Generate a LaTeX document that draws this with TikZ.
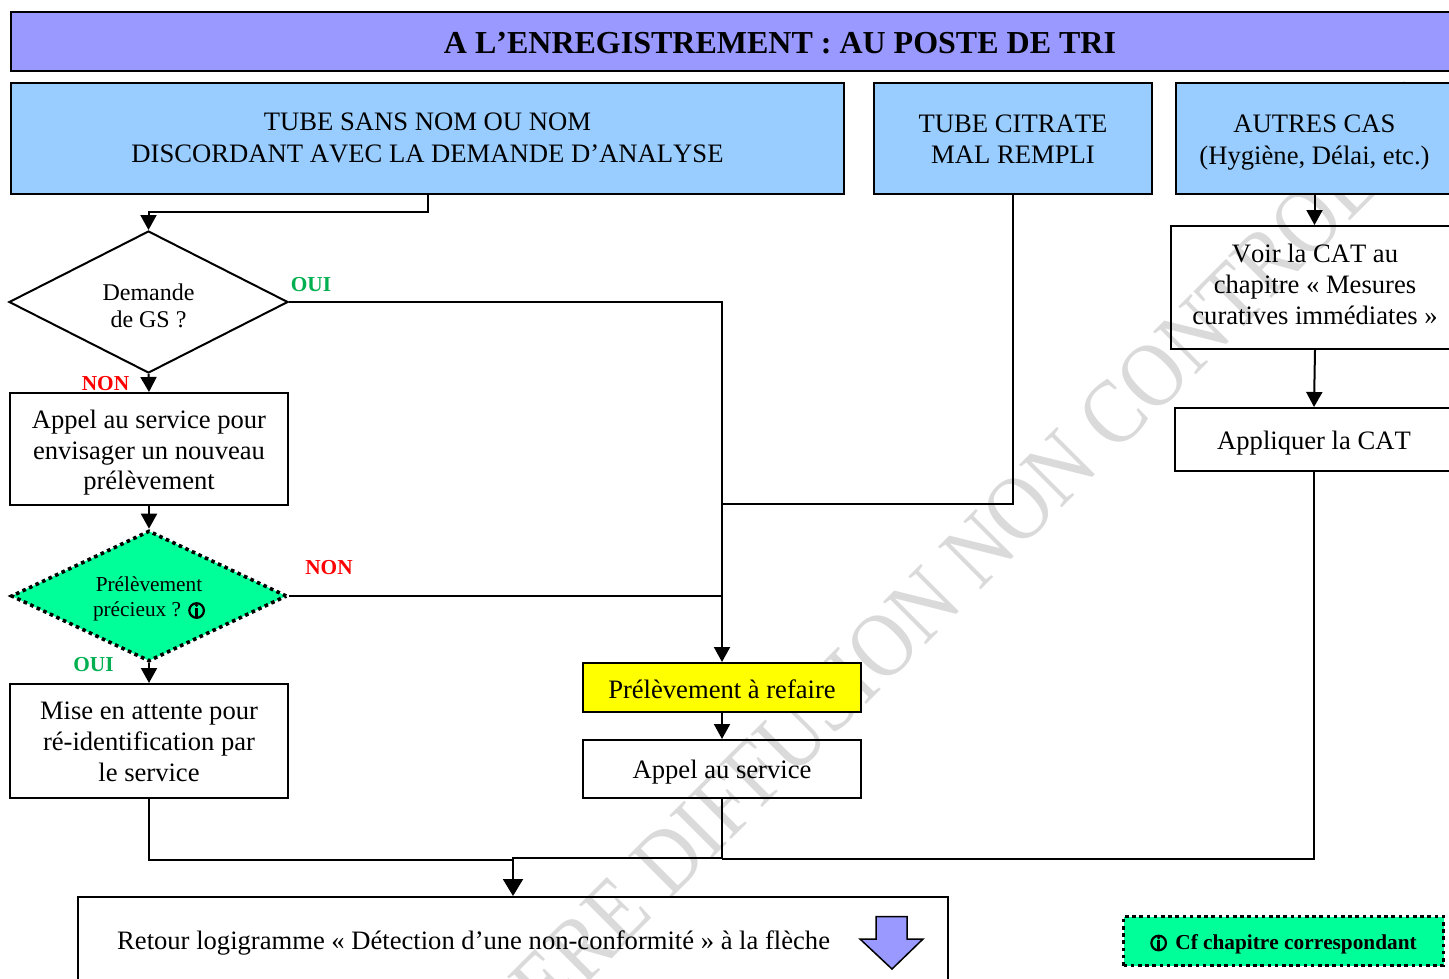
\documentclass[tikz,border=0pt]{standalone}
\usepackage{fontspec}
\setmainfont[Kerning=Off]{Liberation Serif}
\usetikzlibrary{arrows.meta,shapes.geometric}
\definecolor{titlec}{RGB}{153,153,255}
\definecolor{bluec}{RGB}{153,204,255}
\definecolor{greenc}{RGB}{0,255,153}
\definecolor{ouic}{RGB}{0,176,80}
\definecolor{redc}{RGB}{255,0,0}
\definecolor{yelc}{RGB}{255,255,0}
\definecolor{wmc}{RGB}{218,218,218}
\newcommand{\fsz}[2]{\fontsize{#1}{#2}\selectfont}
% text block moved by #1 (up is positive) without changing the node's size
\newcommand{\mv}[2]{\raisebox{#1}[\height][\depth]{\begin{tabular}{@{}c@{}}#2\end{tabular}}}
% circled i symbol (absent from the available fonts)
\newcommand{\infosym}{\smash{\tikz[baseline=0pt,x=1pt,y=1pt]{%
  \draw[line width=2.2pt] (0,6) circle[radius=7.3];
  \fill (-1.7,-1.2) rectangle (1.7,8.6);
  \fill (0,11.2) circle[radius=1.7];}}}
\tikzset{
  x=1pt,y=-1pt,
  box/.style={draw=black,line width=2pt,rectangle,inner sep=0pt,align=center},
  bluebox/.style={box,fill=bluec},
  dm/.style={diamond,inner sep=0pt,line width=2pt,draw=black},
  link/.style={draw=black,line width=2pt},
  arrow/.style={link,-{Triangle[length=15pt,width=16pt]}},
  lab/.style={inner sep=0pt,font=\fsz{21.3}{22}\bfseries},
}
\begin{document}
\begin{tikzpicture}
\useasboundingbox (0,0) rectangle (1449,978);
\clip (0,0) rectangle (1449,978);
\node[rotate=45,text=wmc,inner sep=0pt,font=\fsz{80}{80}] (wm) at (979,549) {\scalebox{1}[1.15]{ERE DIFFUSION NON CONTROLEE}};

\node[box,fill=titlec,minimum width=1538pt,minimum height=59pt,font=\fsz{32}{36}\bfseries] (title) at (780,41.5) {\mv{-5pt}{A L’ENREGISTREMENT : AU POSTE DE TRI}};

\node[bluebox,minimum width=833pt,minimum height=111pt,font=\fsz{26.65}{32}] (b1) at (427.5,138.5) {\mv{-2pt}{TUBE SANS NOM OU NOM\\DISCORDANT AVEC LA DEMANDE D’ANALYSE}};
\node[bluebox,minimum width=278pt,minimum height=111pt,font=\fsz{26.65}{31}] (b2) at (1013,138.5) {\mv{-3pt}{TUBE CITRATE\\MAL REMPLI}};
\node[bluebox,minimum width=277pt,minimum height=111pt,font=\fsz{26.65}{32}] (b3) at (1314.5,138.5) {\mv{-4pt}{AUTRES CAS\\(Hygiène, Délai, etc.)}};
\node[box,minimum width=288pt,minimum height=123pt,font=\fsz{26.6}{31}] (voir) at (1315,287.5) {\mv{0pt}{Voir la CAT au\\chapitre « Mesures\\curatives immédiates »}};
\node[box,minimum width=278pt,minimum height=63pt,font=\fsz{26.6}{32}] (appl) at (1314,439.5) {\mv{-4pt}{Appliquer la CAT}};

\node[dm,minimum width=279pt,minimum height=142pt,aspect=1.96,font=\fsz{24}{27}] (d1) at (148.5,302) {\mv{-7pt}{Demande\\de GS ?}};
\node[box,minimum width=278pt,minimum height=112pt,font=\fsz{26.6}{30.5}] (appel) at (149,449) {\mv{-4pt}{Appel au service pour\\envisager un nouveau\\prélèvement}};

\node[dm,fill=greenc,minimum width=276pt,minimum height=131pt,aspect=2.1,dash pattern=on 3.6pt off 3.6pt,line width=3.6pt,font=\fsz{21.3}{25}] (d2) at (149,596) {\mv{-3pt}{Prélèvement\\précieux ? \infosym}};

\node[box,minimum width=278pt,minimum height=114pt,font=\fsz{26.6}{31}] (mise) at (149,741) {\mv{-3.2pt}{Mise en attente pour\\ré-identification par\\le service}};
\node[box,fill=yelc,minimum width=278pt,minimum height=49pt,font=\fsz{26.6}{32}] (prel) at (722,687.5) {\mv{-5pt}{Prélèvement à refaire}};
\node[box,minimum width=278pt,minimum height=58pt,font=\fsz{26.6}{32}] (serv) at (722,769) {\mv{-3.5pt}{Appel au service}};

\node[box,minimum width=870pt,minimum height=140pt] (ret) at (513,967) {};
\node[inner sep=0pt,font=\fsz{26.6}{32},anchor=west] (rett) at (117,943) {Retour logigramme « Détection d’une non-conformité » à la flèche};
\draw[draw=black,line width=1.5pt,fill=titlec] (876,916.5) -- (907,916.5) -- (907,939) -- (923,939) -- (892,969) -- (860,939) -- (876,939) -- cycle;

\node[rectangle,draw=black,fill=greenc,line width=3.6pt,dash pattern=on 3.6pt off 3.6pt,minimum width=320pt,minimum height=49pt,inner sep=0pt,font=\fsz{21.3}{25}\bfseries] (leg) at (1283.5,941) {\mv{-3pt}{\infosym{}\hspace{3pt} Cf chapitre correspondant}};

% connectors
\coordinate (c1) at (b1.south |- 0,212);
\coordinate (c2) at (d1.north |- 0,212);
\draw[arrow] (b1.south) -- (c1) -- (c2) -- (d1.north);
\coordinate (c3) at (prel.north |- d1.east);
\draw[arrow] (d1.east) -- (c3) -- (prel.north);
\coordinate (c4) at (b2.south |- 0,504);
\coordinate (c5) at (prel.north |- 0,504);
\draw[link] (b2.south) -- (c4) -- (c5);
\coordinate (c6) at (prel.north |- d2.east);
\draw[link] (d2.east) -- (c6);
\draw[arrow] (d1.south) -- (appel.north);
\draw[arrow] (appel.south) -- (d2.north);
\draw[arrow] (d2.south) -- (mise.north);
\draw[arrow] (prel.south) -- (serv.north);
\draw[arrow] (b3.south) -- (b3.south |- voir.north);
\draw[arrow] (voir.south) -- (appl.north);
\coordinate (c7) at (mise.south |- 0,860);
\coordinate (c8) at (ret.north |- 0,860);
\draw[link] (mise.south) -- (c7) -- (c8);
\coordinate (c9) at (serv.south |- 0,858);
\coordinate (c10) at (ret.north |- 0,858);
\draw[link,-{Triangle[length=17pt,width=20pt]}] (serv.south) -- (c9) -- (c10) -- (ret.north);
\coordinate (c11) at (appl.south |- 0,859);
\coordinate (c12) at (serv.south |- 0,859);
\draw[link] (appl.south) -- (c11) -- (c12);

% labels
\node[lab,text=ouic] (l1) at (311,285) {OUI};
\node[lab,text=redc] (l2) at (105.5,384) {NON};
\node[lab,text=redc] (l3) at (329,568) {NON};
\node[lab,text=ouic] (l4) at (93.5,665) {OUI};
\end{tikzpicture}
\end{document}
